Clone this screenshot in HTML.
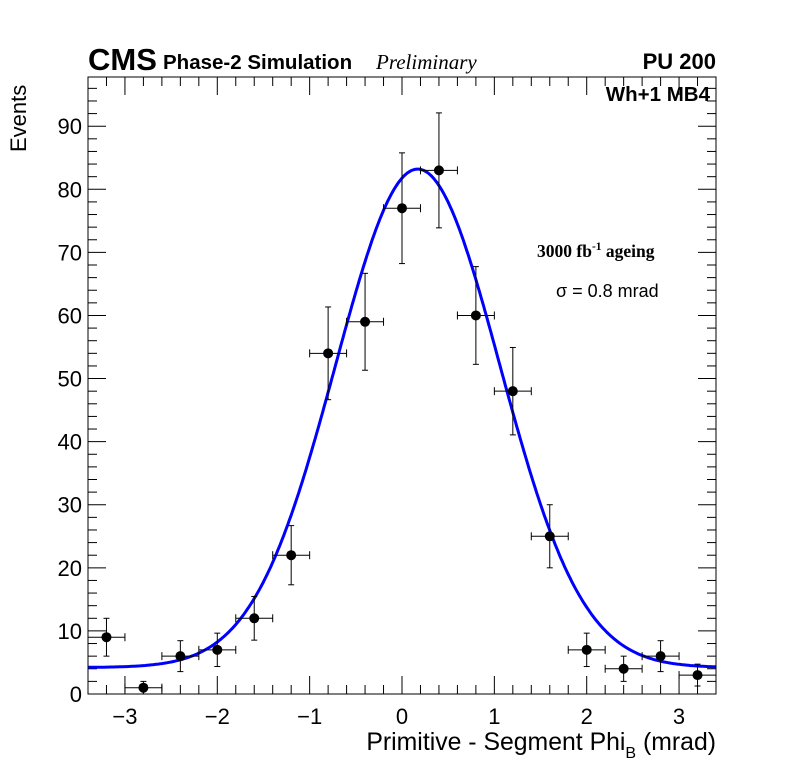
<!DOCTYPE html>
<html><head><meta charset="utf-8"><style>
body{margin:0;background:#fff;}
svg{display:block;font-family:"Liberation Sans",sans-serif;}
</style></head><body>
<svg id="chart" width="796" height="772">
<rect x="0" y="0" width="796" height="772" fill="#fff"/>
<g id="ticks"></g>
<g id="curve"></g>
<g id="points"></g>
<rect x="88" y="77" width="628" height="617" fill="none" stroke="#000" stroke-width="1"/>
<text x="88" y="70" font-size="31" font-weight="bold">CMS</text>
<text x="163" y="69" font-size="20.5" font-weight="bold">Phase-2 Simulation</text>
<text x="376" y="69" font-size="21" font-style="italic" font-family="Liberation Serif,serif">Preliminary</text>
<text x="716" y="69" font-size="22" font-weight="bold" text-anchor="end">PU 200</text>
<text x="710" y="101" font-size="20.5" font-weight="bold" text-anchor="end">Wh+1 MB4</text>
<text x="537" y="257" font-size="17.5" font-weight="bold" font-family="Liberation Serif,serif">3000 fb<tspan dy="-7" font-size="11.5">-1</tspan><tspan dy="7"> ageing</tspan></text>
<text x="556" y="297" font-size="18">σ = 0.8 mrad</text>
<text transform="translate(26,152) rotate(-90)" font-size="22">Events</text>
<text x="716" y="750" font-size="24.8" text-anchor="end">Primitive - Segment Phi<tspan dy="8" font-size="16">B</tspan><tspan dy="-8"> (mrad)</tspan></text>
</svg>
<script>
const binCenters=[-3.2,-2.8,-2.4,-2.0,-1.6,-1.2,-0.8,-0.4,0,0.4,0.8,1.2,1.6,2.0,2.4,2.8,3.2];
const counts=[9,1,6,7,12,22,54,59,77,83,60,48,25,7,4,6,3];
const fitAmp=[79];
const fitMean=[0.17];
const fitSigma=[0.89];
const fitConst=[4.2];
const xTickLabels=["−3","−2","−1","0","1","2","3"];
const xTickVals=[-3,-2,-1,0,1,2,3];
const yTickVals=[0,10,20,30,40,50,60,70,80,90];
const NS="http://www.w3.org/2000/svg";
const X0=-3.4,X1=3.4,Y0=0,Y1=97.8,L=88,R=716,T=77,B=694;
const sx=v=>L+(v-X0)/(X1-X0)*(R-L);
const sy=v=>B-(v-Y0)/(Y1-Y0)*(B-T);
function mk(tag,at,parent){const e=document.createElementNS(NS,tag);for(const k in at)e.setAttribute(k,at[k]);parent.appendChild(e);return e;}
const tg=document.getElementById('ticks');
for(let i=-17;i<=17;i++){const v=i*0.2;const x=sx(v);const major=i%5===0;const len=major?18:9;
 let l=mk('line',{x1:x,x2:x,y1:B,y2:B-len,stroke:'#000'},tg);
 l=mk('line',{x1:x,x2:x,y1:T,y2:T+len,stroke:'#000'},tg);}
for(let v=0;v<=96;v+=2){const y=sy(v);const major=v%10===0;const len=major?18:9;
 let l=mk('line',{x1:L,x2:L+len,y1:y,y2:y,stroke:'#000'},tg);
 l=mk('line',{x1:R,x2:R-len,y1:y,y2:y,stroke:'#000'},tg);}
xTickVals.forEach((v,i)=>{const t=mk('text',{x:sx(v),y:724,'font-size':22,'text-anchor':'middle'},tg);t.textContent=xTickLabels[i];
 });
yTickVals.forEach(v=>{const t=mk('text',{x:82,y:sy(v)+8,'font-size':22,'text-anchor':'end'},tg);t.textContent=String(v);
 });
let d='';for(let i=0;i<=340;i++){const v=X0+i*(X1-X0)/340;const y=fitConst[0]+fitAmp[0]*Math.exp(-0.5*((v-fitMean[0])/fitSigma[0])**2);d+=(i?'L':'M')+sx(v).toFixed(1)+','+sy(y).toFixed(1);}
const c=mk('path',{d:d,fill:'none',stroke:'#0000ff','stroke-width':3},document.getElementById('curve'));

const pg=document.getElementById('points');
binCenters.forEach((xv,i)=>{const n=counts[i],e=Math.sqrt(n);const g=mk('g',{},pg);
 
 const x=sx(xv),y=sy(n),xl=sx(xv-0.2),xr=sx(xv+0.2),yt=sy(n+e),yb=sy(Math.max(0,n-e));
 mk('line',{x1:xl,x2:xr,y1:y,y2:y,stroke:'#000'},g);
 mk('line',{x1:x,x2:x,y1:yt,y2:yb,stroke:'#000'},g);
 mk('line',{x1:xl,x2:xl,y1:y-4,y2:y+4,stroke:'#000'},g);
 mk('line',{x1:xr,x2:xr,y1:y-4,y2:y+4,stroke:'#000'},g);
 mk('line',{x1:x-3,x2:x+3,y1:yt,y2:yt,stroke:'#000'},g);
 mk('line',{x1:x-3,x2:x+3,y1:yb,y2:yb,stroke:'#000'},g);
 mk('circle',{cx:x,cy:y,r:5,fill:'#000'},g);});
</script>
</body></html>
